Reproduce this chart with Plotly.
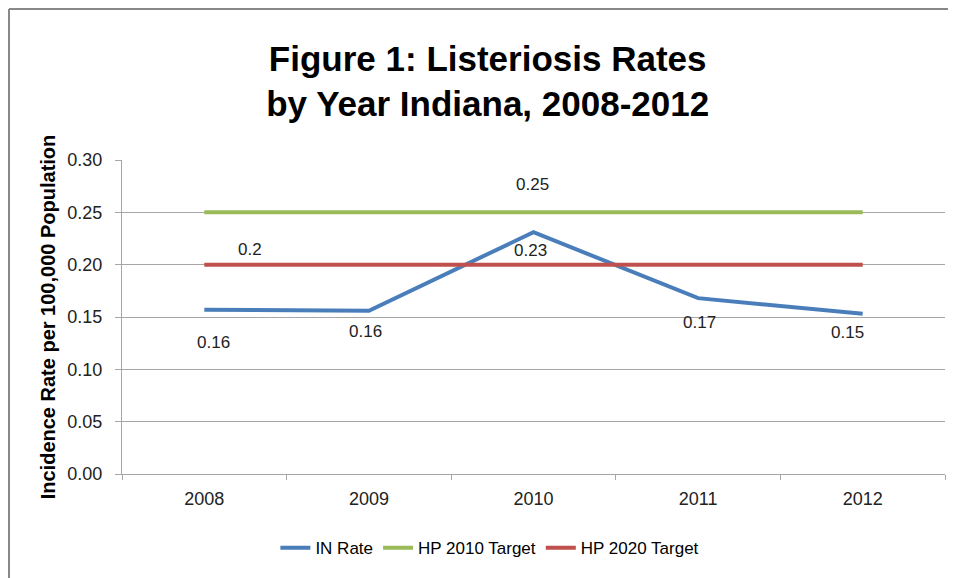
import plotly.graph_objects as go

# Dados
anos = ["2008", "2009", "2010", "2011", "2012"]
in_rate = [0.157, 0.156, 0.231, 0.168, 0.153]
hp2010 = [0.25, 0.25, 0.25, 0.25, 0.25]
hp2020 = [0.20, 0.20, 0.20, 0.20, 0.20]
y_ticks = [0.00, 0.05, 0.10, 0.15, 0.20, 0.25, 0.30]

azul = "#4a7ebb"
verde = "#9bbb59"
vermelho = "#c0504d"
cinza = "#a6a6a6"
fonte = "Liberation Sans, Arial, sans-serif"

fig = go.Figure()
fig.add_trace(go.Scatter(x=anos, y=in_rate, name="IN Rate", mode="lines", line=dict(color=azul, width=4)))
fig.add_trace(go.Scatter(x=anos, y=hp2010, name="HP 2010 Target", mode="lines", line=dict(color=verde, width=4)))
fig.add_trace(go.Scatter(x=anos, y=hp2020, name="HP 2020 Target", mode="lines", line=dict(color=vermelho, width=4)))

# rotulos de dados (posicoes estilo Excel) - x pelo indice da categoria
desloc = [(9, -33), (-3, -21), (-3, -18), (1, -24), (-15, -19)]
for i, (v, (dx, dy)) in enumerate(zip(in_rate, desloc)):
    fig.add_annotation(x=i, y=v, text=f"{round(v, 2):g}", showarrow=False, xshift=dx, yshift=dy,
                       font=dict(family=fonte, size=17, color="#222"))
fig.add_annotation(x=0, y=hp2020[0], text=f"{hp2020[0]:g}", showarrow=False, xshift=46, yshift=15,
                   font=dict(family=fonte, size=17, color="#222"))
fig.add_annotation(x=2, y=hp2010[2], text=f"{hp2010[2]:g}", showarrow=False, xshift=-1, yshift=28,
                   font=dict(family=fonte, size=17, color="#222"))

# a pagina tem 8px de margem no body, entao a figura fica um pouco menor
fig.update_layout(
    width=948, height=570,
    margin=dict(l=114, r=11, t=152, b=104),
    plot_bgcolor="white", paper_bgcolor="white",
    title=dict(text="<b>Figure 1: Listeriosis Rates<br>by Year Indiana, 2008-2012</b>",
               x=0.506, xanchor="center", xref="container", y=0.89, yanchor="top", yref="container",
               font=dict(family=fonte, size=35, color="black")),
    legend=dict(orientation="h", x=0.447, xanchor="center", y=-0.236, yanchor="middle",
                font=dict(family=fonte, size=17, color="black")),
    showlegend=True,
)
fig.update_xaxes(type="category", range=[-0.5, 4.5], tickson="boundaries", ticks="outside", ticklen=5,
                 tickcolor=cinza, showline=True, linecolor=cinza, showgrid=False, ticklabelstandoff=8,
                 tickfont=dict(family=fonte, size=18, color="#222"))
fig.update_yaxes(range=[0, 0.30], tickvals=y_ticks, tickformat=".2f", ticks="outside", ticklen=6, tickcolor=cinza,
                 showline=True, linecolor=cinza, gridcolor=cinza, gridwidth=1, zeroline=False,
                 ticklabelstandoff=9,
                 tickfont=dict(family=fonte, size=18, color="#222"),
                 title=dict(text="<b>Incidence Rate per 100,000 Population</b>", standoff=6,
                            font=dict(family=fonte, size=20, color="black")))

# moldura do grafico
fig.add_shape(type="line", xref="paper", yref="paper", x0=-0.1373, x1=1.02, y0=1.4809, y1=1.4809,
              line=dict(color="#888", width=2))
fig.add_shape(type="line", xref="paper", yref="paper", x0=-0.1373, x1=-0.1373, y0=1.4809, y1=-0.34,
              line=dict(color="#888", width=2))

fig.write_html("out.html")
